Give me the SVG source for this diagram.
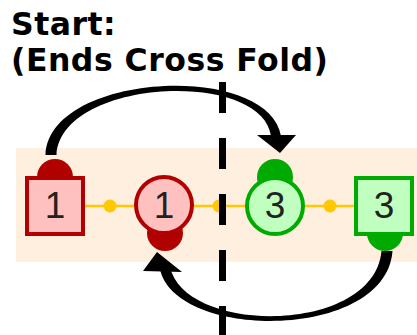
<svg xmlns="http://www.w3.org/2000/svg" width="417" height="335" viewBox="0 0 417 335">
<style>
.title{font-family:"DejaVu Sans",Verdana,sans-serif;font-weight:bold;font-size:31.5px;letter-spacing:0.5px;fill:#000}
.num{font-family:"Liberation Sans",Arial,sans-serif;font-size:37px;fill:#222;text-anchor:middle}
.red{fill:#FFC0C0;stroke:#B00000;stroke-width:4}
.green{fill:#C0FFC0;stroke:#00AA00;stroke-width:4}
.rcap{fill:#B00000}
.gcap{fill:#00AA00}
.dot{fill:#FFC800}
</style>
<rect x="16" y="148" width="401" height="114" fill="#FFEFDF"/>
<text class="title" x="11" y="35">Start:</text>
<text class="title" x="11" y="71">(Ends Cross Fold)</text>
<g id="chain">
<line x1="85" y1="206" x2="354" y2="206" stroke="#FFC800" stroke-width="2.5"/>
<circle class="dot" cx="110" cy="206" r="6.5"/>
<circle class="dot" cx="219" cy="206" r="6.5"/>
<circle class="dot" cx="330" cy="206" r="6.5"/>
</g>
<g id="node-sq1">
<circle class="rcap" cx="55" cy="177" r="18"/>
<rect class="red" x="27" y="178" width="56" height="56"/>
<text class="num" x="55" y="218">1</text>
</g>
<g id="node-c1">
<circle class="rcap" cx="165" cy="233" r="18"/>
<circle class="red" cx="164" cy="205" r="28"/>
<text class="num" x="164" y="218">1</text>
</g>
<g id="node-c3">
<circle class="gcap" cx="275" cy="177" r="18"/>
<circle class="green" cx="275" cy="206" r="28"/>
<text class="num" x="275" y="218">3</text>
</g>
<g id="node-sq3">
<circle class="gcap" cx="385" cy="233" r="18"/>
<rect class="green" x="356" y="178" width="56" height="56"/>
<text class="num" x="384" y="218">3</text>
</g>
<g id="connectors" fill="#000">
<path d="M45.5 155 C49 72 268 61 281 136 L271 136 C262 69 61 78 56.5 155 Z"/>
<polygon points="280,153 257,135 296,135"/>
<path d="M392.5 251 C386 341 175 341 160 269 L170 267 C185 335 374 335 381.5 251 Z"/>
<polygon points="157,252 143,271 182,272"/>
</g>
<line x1="222.5" y1="82" x2="222.5" y2="335" stroke="#000" stroke-width="7" stroke-dasharray="31 25"/>
</svg>
